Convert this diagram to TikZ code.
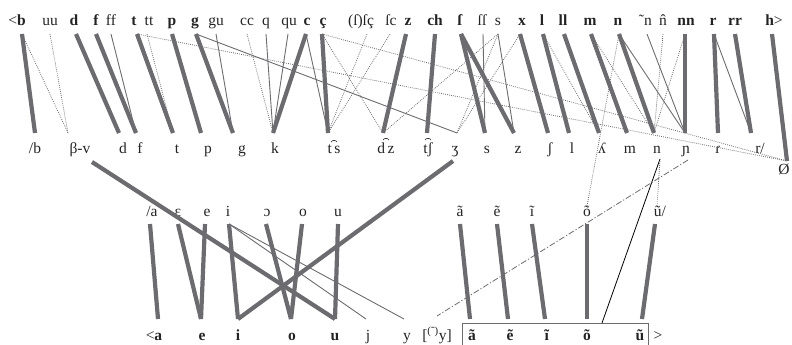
\documentclass[tikz,border=0pt]{standalone}
\usepackage{fontspec}
\setmainfont{Liberation Serif}
\definecolor{lg}{RGB}{108,108,112}
\definecolor{tx}{RGB}{35,35,35}
\begin{document}
\begin{tikzpicture}[x=1pt,y=-1pt,
  lab/.style={anchor=base,inner sep=0pt,text=tx,font=\fontsize{15.5}{17}\selectfont},
  thk/.style={line width=4.2pt,draw=lg},
  thn/.style={line width=0.9pt,draw=lg},
  dot/.style={line width=0.8pt,draw=lg,dash pattern=on 0.8pt off 1.2pt},
  ddot/.style={line width=0.8pt,draw=lg,dash pattern=on 6pt off 2pt on 1.2pt off 2pt},
  blk/.style={line width=0.8pt,draw=black}]
\useasboundingbox (0,0) rectangle (792,345);
% ---------- top row
\foreach \n/\x/\t in {Lb/17/{<\textbf{b}},Luu/50/uu,Ld/74/\textbf{d},Lf/96/\textbf{f},Lff/111/ff,Lt/134/\textbf{t},Ltt/149/tt,Lp/172/\textbf{p},Lg/195/\textbf{g},Lgu/216/gu,Lcc/247/cc,Lq/266/q,Lqu/289/qu,Lc/307/\textbf{c},Lcc2/323/\textbf{ç},Lfsc/361/(ſ)ſç,Lsc/391/ſc,Lz/408/\textbf{z},Lch/435/\textbf{ch},Lls/460/\textbf{ſ},Llss/482/ſſ,Ls/498/s,Lx/522/\textbf{x},Ll/542/\textbf{l},Lll/563/\textbf{ll},Lm/590/\textbf{m},Ln/618/\textbf{n},Lnn/686/\textbf{nn},Lr/713/\textbf{r},Lrr/735/\textbf{rr},Lh/774/{\textbf{h}>}}
  \node[lab] (\n) at (\x,26) {\t};
\node[lab,anchor=base east] (Ltn) at (652,26) {\char"02DC n};
\node[lab,anchor=base west] (Lhn) at (659,26) {n\char"0302};
% ---------- middle consonant row
\foreach \n/\x/\t in {Mb/35/{/b},Mbv/80/{β-v},Md/123/d,Mf/140/f,Mt/177/t,Mp/208/p,Mg/242/g,Mk/275/k,Mts/334/{t\,s},Mdz/386/{d\,z},Mtsh/428/{tʃ},Mzh/455/ʒ,Ms/487/s,Mz/518/z,Msh/550/ʃ,Ml/572/l,Mll/602/ʎ,Mm/630/m,Mn/657/n,Mnj/686/ɲ,Mrr/718/ɾ,Mr/760/{r/}}
  \node[lab] (\n) at (\x,153) {\t};
\node[lab] (M0) at (784,174) {Ø};
% tie bars
\draw[line width=0.6pt,tx] ([xshift=-3pt,yshift=2pt]Mts.north) to[bend left=70] ([xshift=3pt,yshift=2pt]Mts.north);
\draw[line width=0.6pt,tx] ([xshift=-3pt,yshift=2pt]Mdz.north) to[bend left=70] ([xshift=3pt,yshift=2pt]Mdz.north);
\draw[line width=0.6pt,tx] ([xshift=-3pt,yshift=2pt]Mtsh.north) to[bend left=70] ([xshift=3pt,yshift=2pt]Mtsh.north);
% ---------- vowel rows
\foreach \n/\x/\t in {Va/152/{/a},Veps/178/ɛ,Ve/207/e,Vi/228/i,Vo2/267/ɔ,Vo/303/o,Vu/338/u,Van/460/ã,Ven/497/ẽ,Vin/532/ĩ,Von/587/õ,Vun/660/{ũ/}}
  \node[lab] (\n) at (\x,216) {\t};
\foreach \n/\x/\t in {Ba/154/{<\textbf{a}},Be/202/\textbf{e},Bi/238/\textbf{i},Bo/292/\textbf{o},Bu/335/\textbf{u},Bj/368/j,By/407/y,Bny/437/{[\textsuperscript{(\char"02DC)}y]},Ban/472/\textbf{ã},Ben/510/\textbf{ẽ},Bin/547/\textbf{ĩ},Bon/587/\textbf{õ},Bun/640/\textbf{ũ},Bgt/658/>}
  \node[lab] (\n) at (\x,340) {\t};
\draw[line width=0.8pt,lg] (462,347) -- (462,323) -- (648,323) -- (648,347);
% ---------- anchors top (y=34)
\foreach \n/\x in {b/22,uu/50,d/76,f/96,ff/111,t/137,tt/147,p/172,g/196,gu/216,cc/247,q/266,qu/288,c/306,cc2/322,fsc/367,sc/390,z/406,ch/435,ls/461,lss/483,s/498,x/520,l/543,ll/564,m/591,n/619,tn/647,hn/663,nn/685,r/714,rr/735,h/772}
  \coordinate (T\n) at (\x,34);
% anchors middle (y=133)
\foreach \n/\x in {b/35,bv/68,d/119,f/136,t/173,p/201,g/233,k/273,ts/328,dz/383,tsh/427,zh/457,s/485,z/514,sh/548,l/569,ll/599,m/627,n/654,nj/685,rr/718,r/751}
  \coordinate (A\n) at (\x,133);
\coordinate (A0) at (787,161);
% thick
\foreach \a/\b in {b/b,d/d,f/f,t/t,p/p,g/g,c/k,cc2/ts,z/dz,ch/tsh,ls/s,ls/z,x/sh,l/l,ll/ll,m/m,n/n,nn/nj,r/rr,rr/r}
  \draw[thk] (T\a) -- (A\b);
\draw[thk] (Th) -- (A0);
% thin
\foreach \a/\b in {ff/f,gu/g,q/k,qu/k,c/ts,g/zh,lss/s,s/z,n/nj,tn/nj,r/r}
  \draw[thn] (T\a) -- (A\b);
% dotted
\foreach \a/\b in {b/bv,uu/bv,tt/t,cc/k,fsc/ts,sc/ts,cc2/dz,s/dz,s/zh,x/zh,l/ll,m/n,hn/n,nn/n}
  \draw[dot] (T\a) -- (A\b);
\draw[dot] (Tt) -- (A0);
\draw[dot] (Tcc2) -- (A0);
% ---------- vowel anchors
\foreach \n/\x in {a/150,eps/178,e/205,i/229,o2/266,o/302,u/338,an/460,en/497,in/532,on/587,un/655}
  \coordinate (U\n) at (\x,224);
\foreach \n/\x in {a/158,e/201,i/238,o/291,u/335,j/366,y/404,an/470,en/508,in/545,on/587,un/642}
  \coordinate (D\n) at (\x,319);
\coordinate (Nbv) at (92,162);
\coordinate (Nzh) at (453,161);
\foreach \a/\b in {a/a,eps/e,e/e,i/i,o2/o,o/o,u/u,an/an,en/en,in/in,on/on,un/un}
  \draw[thk] (U\a) -- (D\b);
\draw[thk] (Nbv) -- (Du);
\draw[thk] (Nzh) -- (Di);
\draw[thn] (Ui) -- (Dj);
\draw[thn] (Ui) -- (Dy);
% nasal links
\coordinate (Nn) at (660,159);
\coordinate (Nnj) at (688,160);
\coordinate (Ey) at (437,316);
\coordinate (Box) at (602,323);
\draw[blk] (Nn) -- (Box);
\draw[ddot] (Nnj) -- (Ey);
\draw[dot] (Tn) -- (587,206);
\draw[dot] (Nn) -- (657,206);
\end{tikzpicture}
\end{document}
